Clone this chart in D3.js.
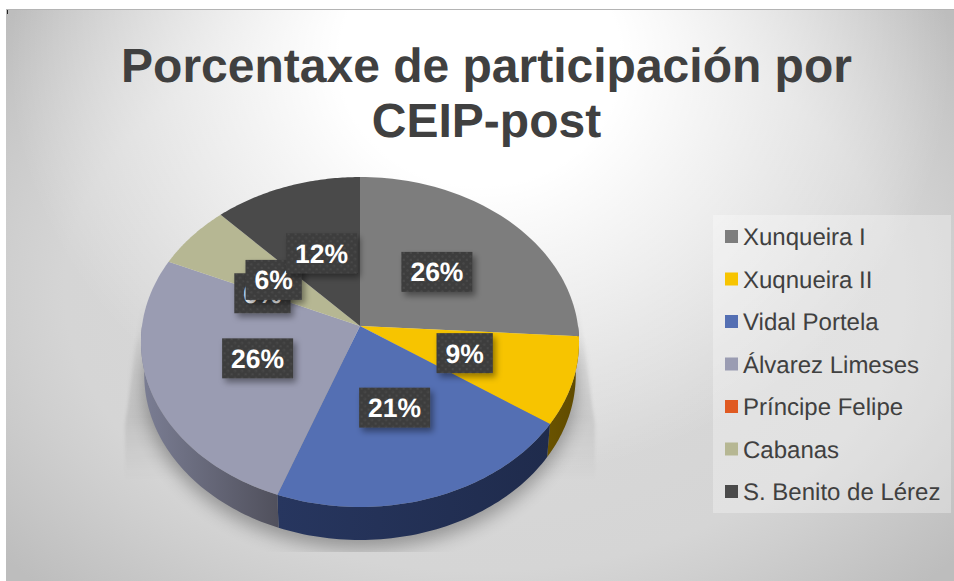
<!DOCTYPE html>
<html><head><meta charset="utf-8">
<script src="https://cdn.jsdelivr.net/npm/d3@7"></script>
<style>html,body{margin:0;padding:0;background:#fff}svg{display:block}text{font-family:"Liberation Sans",Arial,sans-serif;text-rendering:geometricPrecision}</style>
</head><body><svg id="c" width="954" height="581"></svg>
<script>
const titleLines = ["Porcentaxe de participación por", "CEIP-post"];
const categories = ["Xunqueira I","Xuqnueira II","Vidal Portela","Álvarez Limeses","Príncipe Felipe","Cabanas","S. Benito de Lérez"];
const values = [26.0, 8.6, 21.0, 26.1, 0, 6.3, 12.0];
const colors = ["#7d7d7d","#f7c400","#546fb3","#9a9cb2","#e05a22","#b6b793","#4a4a4a"];
const sideDark = ["#555555","#5f4a00","#1f2b4c","#50505c","#7a3010","#6a6a50","#2a2a2a"];
const sideLight = ["#555555","#6a5300","#27365f","#7b7e94","#7a3010","#6a6a50","#2a2a2a"];

const svg = d3.select("#c");
const W = 954, H = 581;
const defs = svg.append("defs");

const cx = 360, cy = 326, A = 163.4, B = 218, k = -0.097, depth = 33, baseScale = 0.985;
const project = (a, r) => {
  const x = r * Math.sin(a), y = -r * Math.cos(a), d = 1 + k * y;
  return [cx + B * x / d, cy + A * y / d];
};
const projectBase = (a) => {
  const p = project(a, 1);
  return [cx + (p[0] - cx) * baseScale, p[1] + depth];
};
const line = d3.line();
const pie = d3.pie().sort(null).value(d => d);
const arcs = pie(values);
const samples = (s, e) => d3.range(0, 61).map(i => s + (e - s) * i / 60);

// background: soft grey base plus a white glow at the top centre
const grad = (id, stops) => {
  const g = defs.append("radialGradient").attr("id", id);
  stops.forEach(s => g.append("stop").attr("offset", s[0]).attr("stop-color", s[1]).attr("stop-opacity", s[2]));
};
grad("bgBase", [[0,"#dadada",1],[0.67,"#d5d5d5",1],[0.76,"#cfcfcf",1],[1,"#bdbdbd",1]]);
grad("bgGlow", [[0,"#fff",1],[0.3,"#fff",1],[1,"#fff",0]]);
const bgClip = defs.append("clipPath").attr("id","bgClip");
bgClip.append("rect").attr("x",6).attr("y",9).attr("width",W-6).attr("height",H-9);
const bgG = svg.append("g").attr("clip-path","url(#bgClip)");
bgG.append("rect").attr("x",6).attr("y",9).attr("width",W-6).attr("height",H-9).attr("fill","#bdbdbd");
bgG.append("ellipse").attr("cx",480).attr("cy",290).attr("rx",620).attr("ry",420).attr("fill","url(#bgBase)");
bgG.append("ellipse").attr("cx",480).attr("cy",60).attr("rx",470).attr("ry",420).attr("fill","url(#bgGlow)");
svg.append("line").attr("x1",6).attr("x2",W).attr("y1",9.5).attr("y2",9.5).attr("stroke","#b4b4b4");
svg.append("rect").attr("x",7).attr("y",10).attr("width",1).attr("height",4).attr("fill","#222");

// floor shadow
const shade = defs.append("linearGradient").attr("id","shade").attr("x1",0).attr("x2",0).attr("y1",0).attr("y2",1);
shade.append("stop").attr("offset",0).attr("stop-color","#000").attr("stop-opacity",0);
shade.append("stop").attr("offset",0.65).attr("stop-color","#000").attr("stop-opacity",0.09);
shade.append("stop").attr("offset",1).attr("stop-color","#000").attr("stop-opacity",0);
defs.append("filter").attr("id","soft").attr("x","-10%").attr("y","-10%").attr("width","120%").attr("height","120%")
  .append("feGaussianBlur").attr("stdDeviation",1.5);
defs.append("filter").attr("id","soft2").attr("x","-20%").attr("y","-20%").attr("width","140%").attr("height","140%")
  .append("feGaussianBlur").attr("stdDeviation",9);
defs.append("clipPath").attr("id","floorClip").append("rect").attr("x",0).attr("y",0).attr("width",W).attr("height",552);
svg.append("path").attr("d","M142,300H578L595,425V480H125V425Z").attr("fill","url(#shade)").attr("filter","url(#soft)");
svg.append("g").attr("clip-path","url(#floorClip)").append("path")
  .attr("d",line(samples(Math.PI*0.45,Math.PI*1.55).map(projectBase))+"Z")
  .attr("transform","translate(0,9)").attr("fill","#000").attr("opacity",0.3).attr("filter","url(#soft2)");

// sides
arcs.forEach((d,i) => {
  const s = Math.max(d.startAngle, Math.PI/2), e = Math.min(d.endAngle, Math.PI*1.5);
  if (e <= s) return;
  const id = "side"+i, top = samples(s,e).map(a=>project(a,1)), base = samples(s,e).map(projectBase);
  const xs = top.concat(base).map(p=>p[0]);
  const g = defs.append("linearGradient").attr("id",id).attr("gradientUnits","userSpaceOnUse")
    .attr("x1",d3.min(xs)).attr("x2",d3.max(xs)).attr("y1",0).attr("y2",0);
  g.append("stop").attr("offset",0).attr("stop-color",sideLight[i]);
  g.append("stop").attr("offset",1).attr("stop-color",sideDark[i]);
  svg.append("path").attr("d",line(top.concat(base.reverse()))+"Z").attr("fill",`url(#${id})`);
});

// top surface
arcs.forEach((d,i) => {
  if (d.value === 0) return;
  const pts = [[cx,cy]].concat(samples(d.startAngle,d.endAngle).map(a=>project(a,1)));
  svg.append("path").attr("d",line(pts)+"Z").attr("fill",colors[i]);
});

// data labels
const pat = defs.append("pattern").attr("id","dots").attr("patternUnits","userSpaceOnUse").attr("width",7).attr("height",7);
pat.append("rect").attr("width",7).attr("height",7).attr("fill","#3d3d3d");
pat.append("circle").attr("cx",2).attr("cy",2).attr("r",1.2).attr("fill","#484848");
pat.append("circle").attr("cx",5.5).attr("cy",5.5).attr("r",1.2).attr("fill","#484848");
const ds = defs.append("filter").attr("id","lab").attr("x","-20%").attr("y","-20%").attr("width","150%").attr("height","160%");
ds.append("feDropShadow").attr("dx",3).attr("dy",4).attr("stdDeviation",3).attr("flood-color","#000").attr("flood-opacity",0.4);
const labelG = svg.append("g");
arcs.forEach((d) => {
  const p = project((d.startAngle+d.endAngle)/2, 0.5);
  const g = labelG.append("g").attr("transform",`translate(${p[0]},${p[1]})`);
  const r = g.append("rect").attr("fill","url(#dots)").attr("filter","url(#lab)");
  const t = g.append("text").attr("text-anchor","middle").attr("dy","0.36em").attr("font-size",26.5).attr("font-weight","bold").attr("fill","#fff").text(Math.round(d.value)+"%");
  const w = t.node().getComputedTextLength()+18;
  r.attr("x",-w/2).attr("y",-20).attr("width",w).attr("height",40);
});

// title
svg.append("g").selectAll("text").data(titleLines).join("text")
  .attr("x",486.5).attr("y",(d,i)=>82+i*55).attr("text-anchor","middle")
  .attr("font-size",48).attr("font-weight","bold").attr("fill","#404040").text(d=>d);

// legend
svg.append("rect").attr("x",713).attr("y",215).attr("width",238).attr("height",298).attr("fill","#fff").attr("opacity",0.3);
const ly = d3.scalePoint().domain(categories).range([237,492]);
const leg = svg.append("g").selectAll("g").data(categories).join("g").attr("transform",d=>`translate(0,${ly(d)})`);
leg.append("rect").attr("x",725).attr("y",-7).attr("width",13).attr("height",13).attr("fill",(d,i)=>colors[i]);
leg.append("text").attr("x",743).attr("dy","0.35em").attr("font-size",24).attr("fill","#404040").text(d=>d);
</script></body></html>
